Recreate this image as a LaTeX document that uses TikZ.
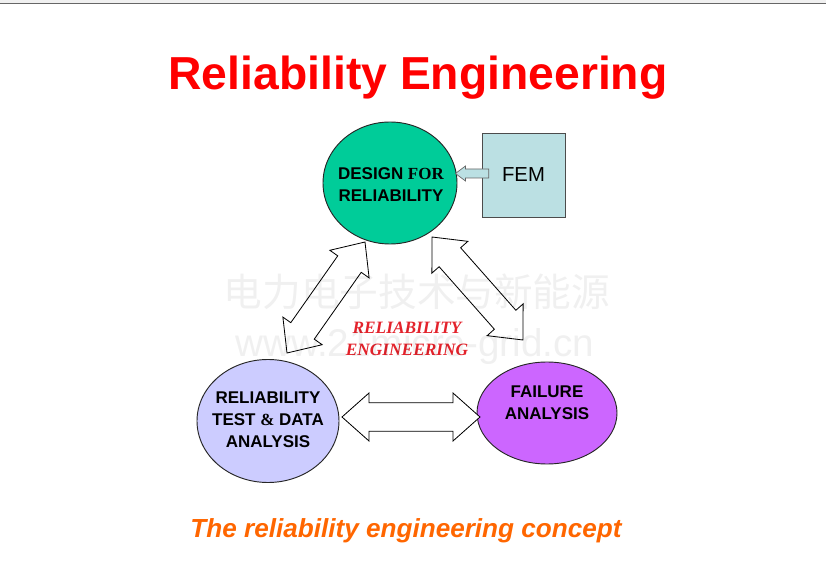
\documentclass[tikz,border=0pt]{standalone}
\usepackage{fontspec}
\setmainfont{Liberation Sans}
\newfontfamily\serifbf{Liberation Serif}
\newfontfamily\cjkfont{Noto Sans CJK SC}
\usetikzlibrary{shapes.geometric,calc}

\definecolor{designgreen}{HTML}{00CC99}
\definecolor{testlilac}{HTML}{CCCCFF}
\definecolor{failpurple}{HTML}{CC66FF}
\definecolor{femblue}{HTML}{BBE0E3}
\definecolor{notered}{HTML}{E3222B}
\definecolor{captionorange}{HTML}{FF6600}

\tikzset{
  bubble/.style={ellipse, draw=black!85, line width=0.8pt, inner sep=0pt},
  bubbletext/.style={align=center, font=\fontsize{14.5}{18.7}\selectfont\bfseries},
  blockarrow/.style={draw=black, fill=white, line width=0.7pt, line join=miter},
  watermark/.style={text=black, text opacity=0.06}
}

\newcommand{\dblarrow}[2]{%
  \draw[blockarrow] (#1)
    -- ($(#1)!0.81cm!(#2)!0.72cm!90:(#2)$)
    -- ($(#1)!0.81cm!(#2)!0.43cm!90:(#2)$)
    -- ($(#2)!0.81cm!(#1)!0.43cm!-90:(#1)$)
    -- ($(#2)!0.81cm!(#1)!0.72cm!-90:(#1)$)
    -- (#2)
    -- ($(#2)!0.81cm!(#1)!0.72cm!90:(#1)$)
    -- ($(#2)!0.81cm!(#1)!0.43cm!90:(#1)$)
    -- ($(#1)!0.81cm!(#2)!0.43cm!-90:(#2)$)
    -- ($(#1)!0.81cm!(#2)!0.72cm!-90:(#2)$)
    -- cycle;}

\begin{document}
\begin{tikzpicture}[x=0.03cm, y=-0.03cm]
    \useasboundingbox (0,0) rectangle (826,566);
    \fill[black!6] (0,0) rectangle (826,3);
    \draw[black!60, line width=0.85pt] (0,3.5) -- (826,3.5);

    \node[font=\fontsize{39.5}{44}\selectfont\bfseries, text=red, anchor=base] (title) at (418,90) {Reliability Engineering};

    \node[bubble, fill=designgreen, minimum width=4.02cm, minimum height=3.66cm] (design) at (390,183) {};
    \node[bubble, fill=testlilac, minimum width=4.26cm, minimum height=3.69cm] (test) at (268,421) {};
    \node[bubble, fill=failpurple, minimum width=4.2cm, minimum height=3.06cm] (failure) at (547,413) {};
    \node[draw=black!70, fill=femblue, minimum width=2.49cm, minimum height=2.52cm, font=\fontsize{17.3}{20}\selectfont] (fem) at (523.5,175) {FEM};

    \node[bubbletext] (designtext) at (391,185) {DESIGN {\serifbf FOR}\\RELIABILITY};
    \node[bubbletext] (testtext) at (268,420) {RELIABILITY\\TEST {\serifbf\&} DATA\\ANALYSIS};
    \node[bubbletext] (failuretext) at (547,403) {FAILURE\\ANALYSIS};

    \coordinate (femtail) at ($(fem.west)+(7,-1.5)$);
    \coordinate (femtip) at ($(design.east |- femtail)+(-2,0)$);
    \draw[draw=black!60, fill=femblue, line width=0.6pt] ($(femtail)!0.135cm!90:(femtip)$)
        -- ($(femtip)!0.3cm!(femtail)!0.135cm!-90:(femtail)$)
        -- ($(femtip)!0.3cm!(femtail)!0.225cm!-90:(femtail)$)
        -- (femtip)
        -- ($(femtip)!0.3cm!(femtail)!0.225cm!90:(femtail)$)
        -- ($(femtip)!0.3cm!(femtail)!0.135cm!90:(femtail)$)
        -- ($(femtail)!0.135cm!-90:(femtip)$) -- cycle;

    \coordinate (lbot) at ($(test)+(19,-68)$);
    \coordinate (ltop) at ($(design)+(-25,59)$);
    \coordinate (rtop) at ($(design)+(42,54)$);
    \coordinate (rbot) at ($(failure)+(-24,-73)$);
    \coordinate (hleft) at ($(test)+(74,-4)$);
    \coordinate (hright) at ($(failure)+(-67,4)$);

    \dblarrow{lbot}{ltop}
    \dblarrow{rtop}{rbot}
    \dblarrow{hleft}{hright}

    \node[font=\serifbf\fontsize{14.8}{18.7}\selectfont\bfseries\itshape, text=notered, align=center] (note) at (407,339) {RELIABILITY\\ENGINEERING};

    \node[font=\fontsize{22.3}{26}\selectfont\bfseries\itshape, text=captionorange, anchor=base] (caption) at (406,537) {The reliability engineering concept};

    \node[watermark, font=\cjkfont\fontsize{33}{33}\selectfont] (wmcn) at (417,292) {电力电子技术与新能源};
    \node[watermark, font=\fontsize{33}{33}\selectfont] (wmurl) at (415,347) {www.21micro-grid.cn};
\end{tikzpicture}
\end{document}
